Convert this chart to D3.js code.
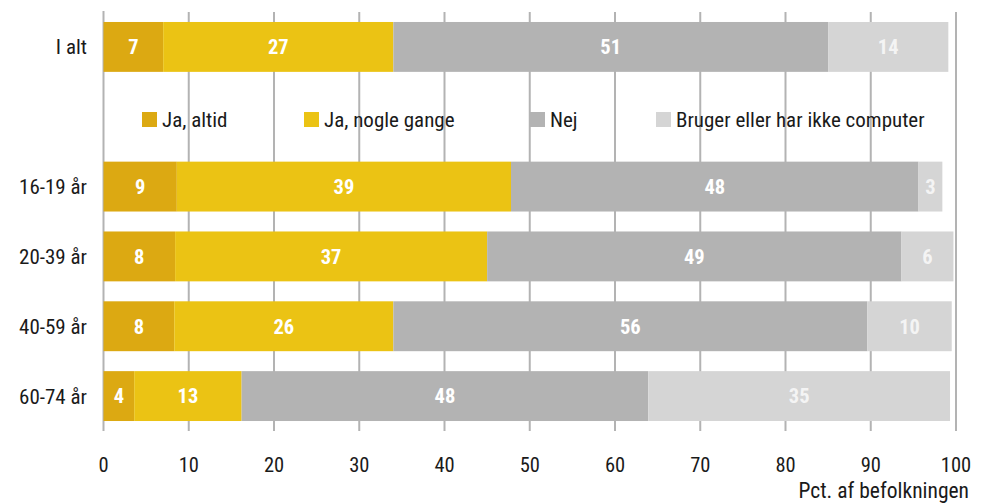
<!DOCTYPE html>
<html><head><meta charset="utf-8">
<script src="https://cdn.jsdelivr.net/npm/d3@7"></script>
<style>
html,body{margin:0;padding:0;background:#fff;}
svg{display:block;}
text{font-family:"Liberation Sans Narrow","Arial Narrow","Roboto Condensed","Liberation Sans",sans-serif;}
</style></head>
<body>
<svg id="chart" width="988" height="504"></svg>
<script>
const categories = ["I alt", "", "16-19 år", "20-39 år", "40-59 år", "60-74 år"];
const seriesNames = ["Ja, altid", "Ja, nogle gange", "Nej", "Bruger eller har ikke computer"];
const jaAltid       = [7.0, null, 8.6, 8.4, 8.3, 3.6];
const jaNogleGange  = [27.0, null, 39.2, 36.6, 25.7, 12.6];
const nej           = [51.0, null, 47.8, 48.6, 55.6, 47.7];
const brugerIkke    = [14.1, null, 2.8, 6.1, 9.9, 35.4];
const xTicks = [0, 10, 20, 30, 40, 50, 60, 70, 80, 90, 100];
const axisTitle = "Pct. af befolkningen";
const colors = ["#dca912", "#ebc314", "#b3b3b3", "#d5d5d5"];

const svg = d3.select("#chart");
const x = d3.scaleLinear().domain([0, 100]).range([103.5, 956]);
const y = d3.scaleBand().domain(categories.map((c,i)=>i)).range([12, 431]).paddingInner(0.2857).paddingOuter(0.143);

const rows = categories.map((c,i)=>({cat:c, i:i, "Ja, altid":jaAltid[i], "Ja, nogle gange":jaNogleGange[i], "Nej":nej[i], "Bruger eller har ikke computer":brugerIkke[i]}))
  .filter(d => d["Ja, altid"] !== null);
const stack = d3.stack().keys(seriesNames)(rows);

// gridlines
svg.append("g").selectAll("line").data(xTicks).join("line")
  .attr("x1", d=>x(d)).attr("x2", d=>x(d))
  .attr("y1", d=> d===0 ? 11 : 12).attr("y2", 431)
  .attr("stroke", "#b3b3b3").attr("stroke-width", 2);

// bars
const g = svg.append("g");
stack.forEach((s, si) => {
  const grp = g.append("g").attr("fill", colors[si]);
  grp.selectAll("rect").data(s).join("rect")
    .attr("x", d=>x(d[0])).attr("width", d=>x(d[1])-x(d[0]))
    .attr("y", d=>y(d.data.i)).attr("height", y.bandwidth());
  svg.append("g").selectAll("text").data(s).join("text")
    .attr("x", d=>(x(d[0])+x(d[1]))/2)
    .attr("y", d=>y(d.data.i)+y.bandwidth()/2)
    .attr("dy", "0.36em")
    .attr("text-anchor", "middle")
    .attr("fill", si===3 ? "#f4f4f4" : "#ffffff")
    .attr("font-size", 20.5).attr("font-weight", "bold")
    .text(d=>d3.format(".0f")(d[1]-d[0]));
});

// category labels
svg.append("g").selectAll("text").data(rows).join("text")
  .attr("x", 87).attr("y", d=>y(d.i)+y.bandwidth()/2).attr("dy", "0.36em")
  .attr("text-anchor", "end").attr("font-size", 21).attr("fill", "#1a1a1a")
  .text(d=>d.cat);

// x tick labels
svg.append("g").selectAll("text").data(xTicks).join("text")
  .attr("x", d=>x(d)).attr("y", 465).attr("dy", "0.36em")
  .attr("text-anchor", "middle").attr("font-size", 20.5).attr("fill", "#1a1a1a")
  .text(d=>d);
svg.append("text").attr("x", 969).attr("y", 490).attr("dy", "0.36em")
  .attr("text-anchor", "end").attr("font-size", 21.5).attr("fill", "#1a1a1a")
  .text(axisTitle);

// legend
const legX = [142, 304, 530, 656];
const leg = svg.append("g").selectAll("g").data(seriesNames).join("g")
  .attr("transform", (d,i)=>`translate(${legX[i]},112)`);
leg.append("rect").attr("width", 15).attr("height", 15).attr("fill", (d,i)=>colors[i]);
leg.append("text").attr("x", 20).attr("y", 7.5).attr("dy", "0.36em")
  .attr("font-size", 21).attr("fill", "#1a1a1a").text(d=>d);
</script>
</body></html>
